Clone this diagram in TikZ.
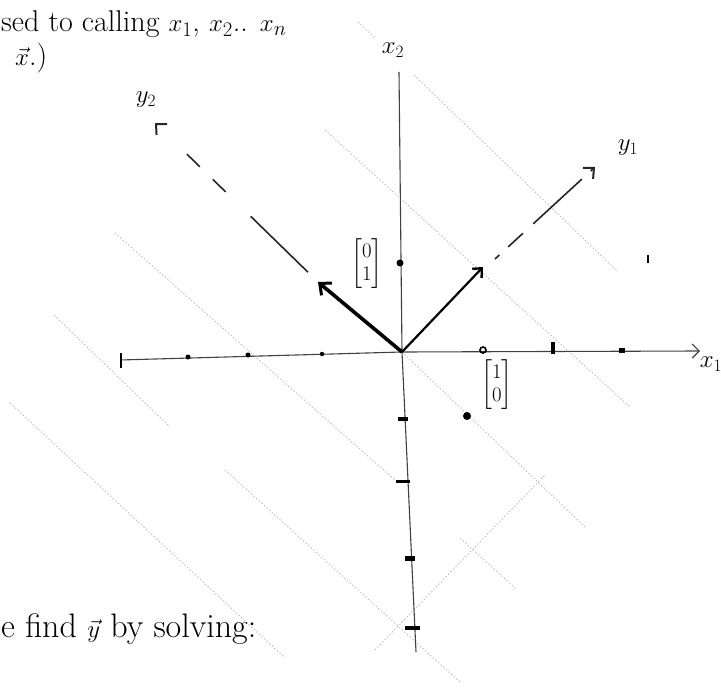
\documentclass[tikz,border=0pt]{standalone}
\usepackage{amsmath}
\usetikzlibrary{arrows.meta}
\tikzset{
    gridline/.style={gray!60, line width=0.7pt, dash pattern=on 1.5pt off 2pt},
    axisline/.style={black!75, line width=1.1pt},
    vecthick/.style={black, line width=3.6pt, -{Straight Barb[length=9pt,width=16pt,line width=3pt]}},
    vecmid/.style={black, line width=2.2pt, -{Straight Barb[length=7pt,width=13pt,line width=2.4pt]}},
    dashvec/.style={black!85, line width=1.6pt},
    hand/.style={font=\fontsize{30}{34}\selectfont, inner sep=0pt},
    lbl/.style={font=\fontsize{26}{30}\selectfont, inner sep=0pt},
    mat/.style={font=\fontsize{20}{23}\selectfont, inner sep=0pt},
    tickdot/.style={circle, fill=black, inner sep=0pt, minimum size=#1},
    tickdot/.default=5pt,
    tickbar/.style={rectangle, fill=black, inner sep=0pt}
}
\begin{document}
\begin{tikzpicture}[x=1pt,y=-1pt]
    \useasboundingbox (0,0) rectangle (721,690);
    % faint grid lines
    \draw[gridline] (402,352) -- (585,527);
    \draw[gridline] (325,130) -- (630,407);
    \draw[gridline] (358,22) -- (376,39);
    \draw[gridline] (414,75) -- (618,272);
    \draw[gridline] (115,233) -- (395,480);
    \draw[gridline] (54,315) -- (170,427);
    \draw[gridline] (10,403) -- (285,658);
    \draw[gridline] (225,470) -- (460,682);
    \draw[gridline] (460,538) -- (515,588);
    \draw[gridline] (375,650) -- (545,475);
    % axes
    \coordinate (O) at (402,352);
    \coordinate (xstart) at (120,360);
    \coordinate (xend) at (700,351);
    \coordinate (ytop) at (399,72);
    \coordinate (ybot) at (416,652);
    \draw[axisline, -{Straight Barb[length=7pt,width=14pt,line width=1.2pt]}] (xstart) -- (O) -- (xend);
    \draw[axisline] (ytop) -- (O) -- (ybot);
    % ticks on x axis
    \node[tickbar, minimum width=2.5pt, minimum height=15pt] (xtA) at (121,360) {};
    \node[tickdot] (xtB) at (188,357) {};
    \node[tickdot] (xtC) at (248,355) {};
    \node[tickdot=4.5pt] (xtD) at (322,354) {};
    \node[circle, draw=black, line width=1.6pt, inner sep=0pt, minimum size=6pt] (xtE) at (483,350) {};
    \node[tickbar, minimum width=4pt, minimum height=12pt] (xtF) at (553,348) {};
    \node[tickbar, minimum width=6pt, minimum height=5pt] (xtG) at (622,350) {};
    % ticks on y axis
    \node[tickdot=7pt] (ytA) at (400,263) {};
    \node[tickbar, minimum width=10pt, minimum height=4pt] (ytB) at (403,419) {};
    \node[tickbar, minimum width=14pt, minimum height=3pt] (ytC) at (403,481) {};
    \node[tickbar, minimum width=10pt, minimum height=5pt] (ytD) at (410,558) {};
    \node[tickbar, minimum width=15pt, minimum height=4pt] (ytE) at (412,628) {};
    % loose points
    \node[tickdot=8pt] (pA) at (467,416) {};
    \node[tickbar, minimum width=2.5pt, minimum height=8pt] (pB) at (648,259) {};
    % vectors
    \coordinate (etwo) at (318,282);
    \coordinate (yone) at (483,267);
    \coordinate (yonestart) at (495,259);
    \coordinate (yonetip) at (595,167);
    \coordinate (ytwotip) at (155,123);
    \draw[vecthick] (O) -- (etwo);
    \draw[vecmid] (O) -- (yone);
    \draw[
        dashvec,
        dash pattern=on 6pt off 12pt on 20pt off 14pt on 60pt off 0pt,
        -{Straight Barb[length=8pt,width=15pt,line width=2pt]}
    ]
    (yonestart) -- (yonetip);
    \draw[
        dashvec,
        dash pattern=on 0pt off 14pt on 80pt off 35pt on 18pt off 18pt on 18pt off 40pt,
        -{Straight Barb[length=8pt,width=15pt,line width=2pt]}
    ]
    (etwo) -- (ytwotip);
    % labels
    \node[lbl] (lxone) at (711,364) {$x_1$};
    \node[lbl] (lxtwo) at (393,50) {$x_2$};
    \node[lbl] (lyone) at (628,148) {$y_1$};
    \node[lbl] (lytwo) at (146,100) {$y_2$};
    \node[mat] (lmatA) at (367,264) {$\begin{bmatrix}0\\1\end{bmatrix}$};
    \node[mat] (lmatB) at (497,385) {$\begin{bmatrix}1\\0\end{bmatrix}$};
    % handwritten text
    \node[hand, anchor=base west] (ltopA) at (1,32) {sed to calling $x_1$, $x_2$.. $x_n$};
    \node[hand, anchor=base west] (ltopB) at (15,66) {$\vec{x}$.)};
    \node[hand, font=\fontsize{34}{38}\selectfont, anchor=base west] (lbot) at (1,637) {e find $\vec{y}$ by solving:};
\end{tikzpicture}
\end{document}
